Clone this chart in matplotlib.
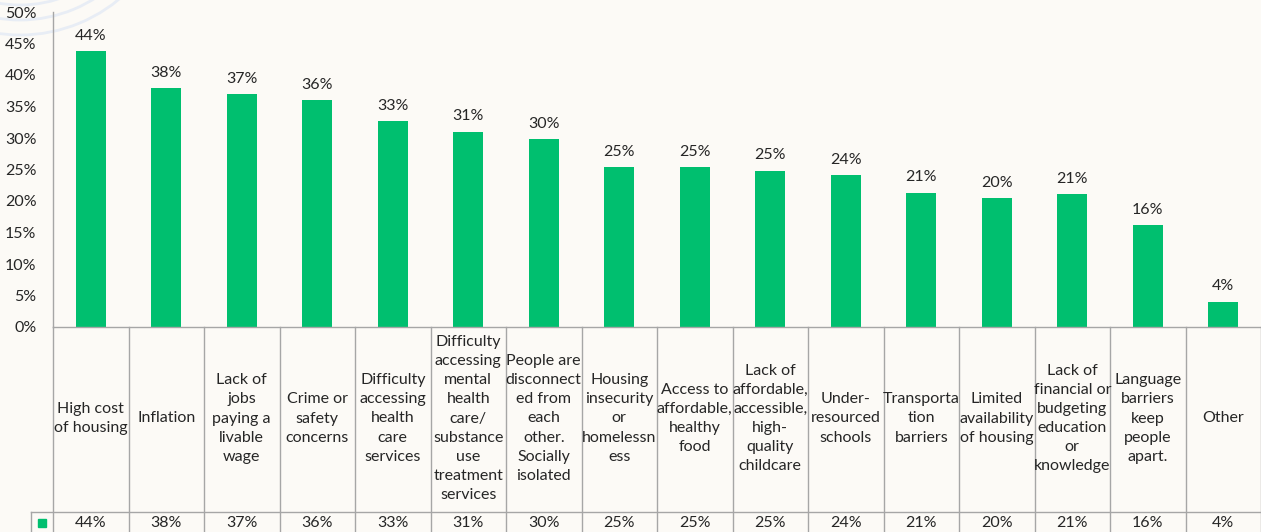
import matplotlib
matplotlib.use("Agg")
import matplotlib.pyplot as plt
from matplotlib.patches import Arc, Rectangle

categories = [
    "High cost\nof housing",
    "Inflation",
    "Lack of\njobs\npaying a\nlivable\nwage",
    "Crime or\nsafety\nconcerns",
    "Difficulty\naccessing\nhealth\ncare\nservices",
    "Difficulty\naccessing\nmental\nhealth\ncare/\nsubstance\nuse\ntreatment\nservices",
    "People are\ndisconnect\ned from\neach\nother.\nSocially\nisolated",
    "Housing\ninsecurity\nor\nhomelessn\ness",
    "Access to\naffordable,\nhealthy\nfood",
    "Lack of\naffordable,\naccessible,\nhigh-\nquality\nchildcare",
    "Under-\nresourced\nschools",
    "Transporta\ntion\nbarriers",
    "Limited\navailability\nof housing",
    "Lack of\nfinancial or\nbudgeting\neducation\nor\nknowledge",
    "Language\nbarriers\nkeep\npeople\napart.",
    "Other",
]
values = [43.8, 37.9, 37.0, 36.0, 32.7, 31.0, 29.8, 25.4, 25.4, 24.8, 24.1, 21.3, 20.4, 21.1, 16.2, 4.0]
value_labels = ["44%", "38%", "37%", "36%", "33%", "31%", "30%", "25%", "25%", "25%",
                "24%", "21%", "20%", "21%", "16%", "4%"]
yticks = [0, 5, 10, 15, 20, 25, 30, 35, 40, 45, 50]
ytick_labels = [f"{t}%" for t in yticks]

W, H = 1261, 532
BG = "#FCFAF6"
GREEN = "#00BF6F"
GRID = "#A6A6A6"
TXT = "#262626"
FONT = "Lato"
FS = 11.5

plt.rcParams["font.family"] = [FONT, "DejaVu Sans"]

fig = plt.figure(figsize=(W / 100, H / 100), dpi=100, facecolor=BG)

# decorative faint arcs (figure pixel space)
deco = fig.add_axes([0, 0, 1, 1])
deco.set_xlim(0, W)
deco.set_ylim(H, 0)
deco.axis("off")
deco.set_zorder(-1)
for r in (125, 140, 155):
    deco.add_patch(Arc((20, -120), 2 * r, 2 * r, theta1=0, theta2=360,
                       color="#E8EDF5", lw=2.0))

left_px, top_px, axis_px, right_px = 53, 12, 327, 1261
ax = fig.add_axes([left_px / W, (H - axis_px) / H, (right_px - left_px) / W, (axis_px - top_px) / H])
ax.set_facecolor("none")
n = len(values)
x = list(range(n))
ax.bar(x, values, width=0.4, color=GREEN, zorder=2)
ax.set_xlim(-0.5, n - 0.5)
ax.set_ylim(0, 50)
ax.set_yticks(yticks)
ax.set_yticklabels(ytick_labels, fontsize=FS, color=TXT)
ax.tick_params(axis="y", length=0, pad=12)
ax.set_xticks([])
for s in ("top", "right"):
    ax.spines[s].set_visible(False)
ax.spines["left"].set_color(GRID)
ax.spines["bottom"].set_color(GRID)
ax.spines["left"].set_linewidth(1)
ax.spines["bottom"].set_linewidth(1)
for xi, v, lab in zip(x, values, value_labels):
    ax.annotate(lab, (xi, v), xytext=(0, 6), textcoords="offset points",
                ha="center", va="bottom", fontsize=FS, color=TXT)

# data table below
tax = fig.add_axes([left_px / W, 0, (right_px - left_px) / W, (H - axis_px) / H])
tax.set_xlim(-0.5, n - 0.5)
tax.set_ylim(H, axis_px)
tax.axis("off")
tax.set_facecolor("none")
row_y = 512
unit = (right_px - left_px) / n
leg_left = -0.5 - (left_px - 31) / unit
for k in range(n + 1):
    tax.plot([k - 0.5, k - 0.5], [axis_px, H], color=GRID, lw=1, clip_on=False)
tax.plot([leg_left, n - 0.5], [row_y, row_y], color=GRID, lw=1, clip_on=False)
tax.plot([leg_left, leg_left], [row_y, H], color=GRID, lw=1, clip_on=False)
for xi, cat, lab in zip(x, categories, value_labels):
    tax.text(xi, (axis_px + row_y) / 2 - 1, cat, ha="center", va="center",
             fontsize=FS, color=TXT, linespacing=1.47, clip_on=False)
    tax.text(xi, (row_y + H) / 2 + 1, lab, ha="center", va="center",
             fontsize=FS, color=TXT, clip_on=False)
sq = 8 / unit
tax.add_patch(Rectangle(((leg_left - 0.5) / 2 - sq / 2, (row_y + H) / 2 + 1 - 4), sq, 8,
                        color=GREEN, clip_on=False))

fig.savefig("out.png", dpi=100, facecolor=BG)
